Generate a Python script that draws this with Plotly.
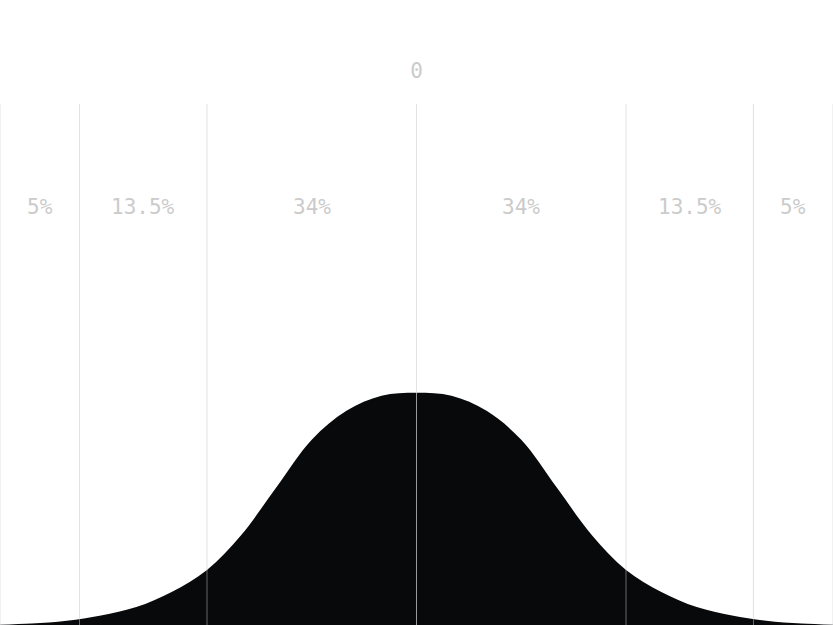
import plotly.graph_objects as go

# Bell curve (x in "position" units, y as density)
curve_x = [-3.30, -3.05, -2.77, -2.50, -2.22, -1.94, -1.66, -1.39, -1.11, -0.83, -0.555, -0.277,
           0.0, 0.277, 0.555, 0.83, 1.11, 1.39, 1.66, 1.94, 2.22, 2.50, 2.77, 3.05, 3.30]
curve_y = [0.0005, 0.0026, 0.0074, 0.0164, 0.031, 0.057, 0.095, 0.155, 0.238, 0.320, 0.370, 0.396,
           0.401, 0.396, 0.370, 0.320, 0.238, 0.155, 0.095, 0.057, 0.031, 0.0164, 0.0074, 0.0026, 0.0005]

# band boundaries and the share of each band
boundaries = [-3.30, -2.67, -1.66, 0.0, 1.66, 2.67, 3.30]
band_labels = ["5%", "13.5%", "34%", "34%", "13.5%", "5%"]
label_level = 0.722

mono = "DejaVu Sans Mono"
label_color = "#cbcbcb"

fig = go.Figure()

fig.add_trace(
    go.Scatter(
        x=curve_x,
        y=curve_y,
        mode="lines",
        line=dict(color="#08090b", width=0, shape="spline", smoothing=1.0),
        fill="tozeroy",
        fillcolor="#08090b",
        hoverinfo="skip",
        showlegend=False,
    )
)

# vertical band lines, drawn above the filled curve
for b in boundaries:
    is_center = b == 0.0
    fig.add_shape(
        type="line",
        xref="x", yref="paper",
        x0=b, x1=b, y0=0, y1=1,
        line=dict(
            color="rgba(215,215,215,0.7)" if is_center else "rgba(200,200,200,0.5)",
            width=1,
        ),
        layer="above",
    )

# percentage labels in the middle of each band
for i, txt in enumerate(band_labels):
    mid = (boundaries[i] + boundaries[i + 1]) / 2
    fig.add_annotation(
        x=mid, y=label_level, xref="x", yref="y",
        text=txt, showarrow=False,
        font=dict(family=mono, size=21, color=label_color),
    )

fig.update_layout(
    width=833,
    height=625,
    margin=dict(l=0, r=0, t=104, b=0),
    paper_bgcolor="white",
    plot_bgcolor="white",
    xaxis=dict(
        range=[boundaries[0], boundaries[-1]],
        side="top",
        tickvals=[0],
        ticktext=["0"],
        ticks="outside",
        ticklen=17,
        tickcolor="rgba(0,0,0,0)",
        tickfont=dict(family=mono, size=21, color=label_color),
        showgrid=False,
        zeroline=False,
        showline=False,
        fixedrange=True,
    ),
    yaxis=dict(
        range=[0, 0.9],
        visible=False,
        fixedrange=True,
    ),
)

fig.write_html(
    "out.html",
    config={"displayModeBar": False},
    post_script="document.body.style.margin='0';",
)
